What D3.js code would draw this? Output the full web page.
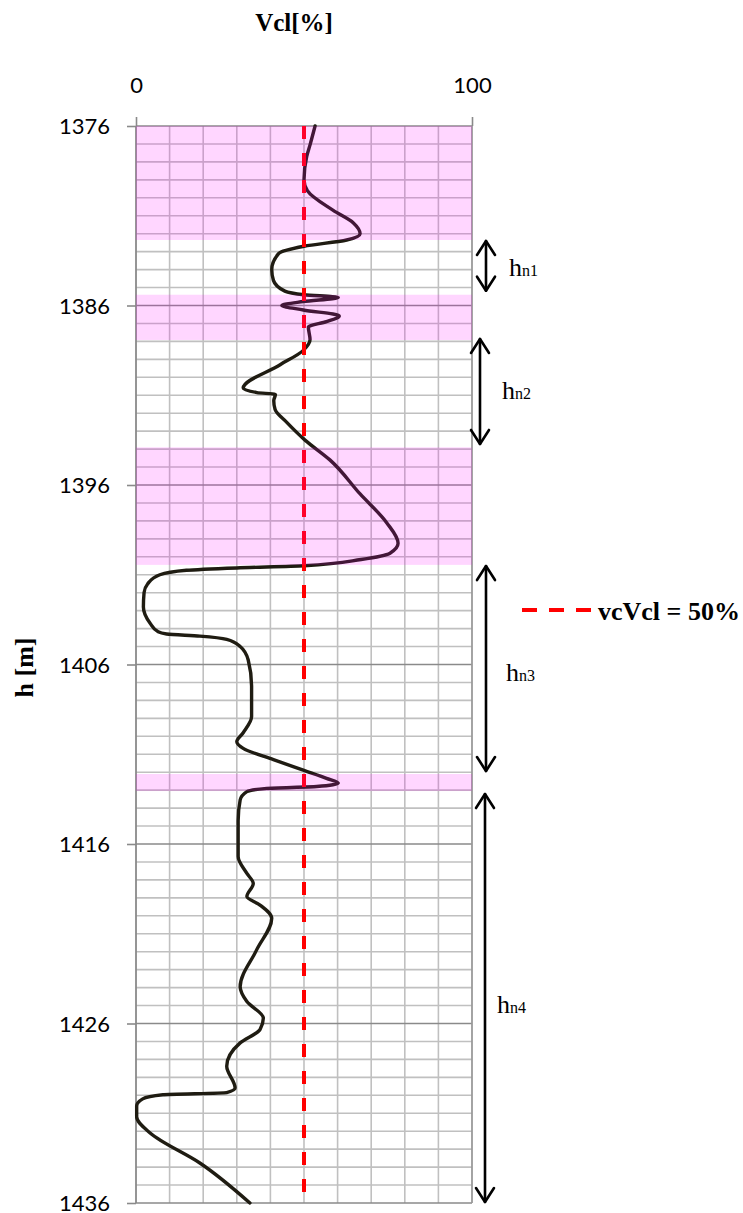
<!DOCTYPE html>
<html>
<head>
<meta charset="utf-8">
<script src="https://cdn.jsdelivr.net/npm/d3@7/dist/d3.min.js"></script>
<style>
  html, body { margin: 0; padding: 0; background: #ffffff; }
  svg { display: block; }
</style>
</head>
<body>
<div id="chart"></div>
<script>
// ---------------- data ----------------
const depthTicks = [1376, 1386, 1396, 1406, 1416, 1426, 1436];
const vclTicks = [0, 100];
const cutoffVcl = 50;

const depth = [1376.0, 1377.05, 1377.7, 1379.0, 1379.6, 1380.7, 1381.4, 1382.0, 1382.35, 1382.7,
  1383.1, 1384.0, 1384.6, 1385.2, 1385.4, 1385.55, 1385.78, 1386.0, 1386.25, 1386.58,
  1386.9, 1387.2, 1387.9, 1388.5, 1389.3, 1390.6, 1390.85, 1390.95, 1391.3, 1391.8,
  1392.5, 1393.5, 1394.6, 1396.5, 1398.1, 1399.25, 1399.8, 1400.15, 1400.5, 1400.62,
  1400.75, 1401.0, 1401.5, 1402.0, 1402.8, 1403.7, 1404.18, 1404.3, 1404.42, 1404.6,
  1405.0, 1405.75, 1407.2, 1408.9, 1409.8, 1410.3, 1410.67, 1411.3, 1411.9, 1412.34,
  1412.6, 1412.8, 1412.9, 1413.08, 1413.55, 1414.7, 1416.7, 1417.64, 1418.2, 1418.93,
  1419.4, 1420.14, 1421.9, 1423.95, 1424.78, 1425.7, 1426.34, 1427.08, 1428.38, 1429.6,
  1429.85, 1429.97, 1430.2, 1430.6, 1431.2, 1432.1, 1433.77, 1436.0];
const vcl = [53.3, 51.8, 50.8, 50.0, 51.0, 58.7, 64.7, 66.7, 62.7, 50.0,
  42.5, 40.4, 40.9, 44.3, 50.0, 60.2, 49.8, 43.4, 49.8, 60.5,
  56.7, 51.3, 51.8, 49.8, 42.9, 31.9, 36.0, 41.5, 41.0, 41.4,
  44.8, 50.3, 57.7, 66.7, 74.6, 78.0, 75.6, 67.0, 50.0, 30.0,
  15.0, 7.1, 3.5, 2.4, 2.2, 4.2, 6.6, 9.1, 19.0, 27.0,
  31.0, 33.4, 34.4, 34.4, 31.9, 30.0, 31.9, 40.9, 50.0, 56.7,
  60.2, 53.8, 38.9, 33.0, 31.0, 30.4, 30.4, 33.0, 34.9, 33.0,
  36.9, 40.4, 35.9, 31.0, 33.0, 37.9, 36.9, 31.0, 27.0, 29.5,
  27.0, 8.0, 2.0, 0.2, 0.2, 4.2, 19.0, 33.9];

// shale (Vcl > cutoff) intervals
const bandTop = [1376, 1385.4, 1393.9, 1412.1];
const bandBottom = [1382.35, 1387.92, 1400.45, 1413.05];

// net intervals
const hnNames = ["n1", "n2", "n3", "n4"];
const hnTop = [1382.35, 1387.81, 1400.46, 1413.16];
const hnBottom = [1385.23, 1393.77, 1411.99, 1436.0];

// ---------------- drawing ----------------
const W = 743, H = 1213;
const svg = d3.select("#chart").append("svg").attr("width", W).attr("height", H);
svg.append("rect").attr("width", W).attr("height", H).attr("fill", "#fff");

const x = d3.scaleLinear().domain([0, 100]).range([136, 472]);
const y = d3.scaleLinear().domain([1376, 1436]).range([126, 1203]);

const minor = d3.range(1376, 1437, 1);
const vlines = d3.range(0, 101, 10);

const g = svg.append("g");
// minor horizontal grid
g.selectAll("line.h").data(minor.filter(d => !depthTicks.includes(d))).join("line")
  .attr("x1", x(0)).attr("x2", x(100)).attr("y1", d => y(d)).attr("y2", d => y(d))
  .attr("stroke", "#c0c0c0").attr("stroke-width", 1.6);
// vertical grid
g.selectAll("line.v").data(vlines.filter(d => d > 0 && d < 100)).join("line")
  .attr("x1", d => x(d)).attr("x2", d => x(d)).attr("y1", y(1376)).attr("y2", y(1436))
  .attr("stroke", "#c0c0c0").attr("stroke-width", 1.6);
// major horizontal grid
g.selectAll("line.M").data(depthTicks).join("line")
  .attr("x1", x(0)).attr("x2", x(100)).attr("y1", d => y(d)).attr("y2", d => y(d))
  .attr("stroke", "#8a8a8a").attr("stroke-width", 1.6);
// right & left borders
g.append("line").attr("x1", x(100)).attr("x2", x(100)).attr("y1", y(1376)).attr("y2", y(1436))
  .attr("stroke", "#9a9a9a").attr("stroke-width", 1.8);
g.append("line").attr("x1", x(0)).attr("x2", x(0)).attr("y1", y(1376)).attr("y2", y(1436))
  .attr("stroke", "#8a8a8a").attr("stroke-width", 1.8);

// curve
const pts = depth.map((d, i) => [vcl[i], d]);
const line = d3.line().x(p => x(p[0])).y(p => y(p[1])).curve(d3.curveMonotoneY);
svg.append("path").datum(pts).attr("d", line)
  .attr("fill", "none").attr("stroke", "#1f1c12").attr("stroke-width", 3.4)
  .attr("stroke-linejoin", "round").attr("stroke-linecap", "round");

// cutoff line
svg.append("line").attr("x1", x(cutoffVcl)).attr("x2", x(cutoffVcl))
  .attr("y1", y(1376)).attr("y2", y(1436))
  .attr("stroke", "#ff0000").attr("stroke-width", 4).attr("stroke-dasharray", "13 14");

// shale bands (translucent overlay)
svg.selectAll("rect.band").data(bandTop.map((t, i) => [t, bandBottom[i]])).join("rect")
  .attr("x", x(0)).attr("width", x(100) - x(0))
  .attr("y", d => y(d[0])).attr("height", d => y(d[1]) - y(d[0]))
  .attr("fill", "#ff00ff").attr("fill-opacity", 0.16);

// axes
const axL = d3.axisLeft(y).tickValues(depthTicks).tickSize(9).tickPadding(17).tickFormat(d3.format("d"));
const gl = svg.append("g").attr("transform", `translate(${x(0)},0)`).call(axL);
const axT = d3.axisTop(x).tickValues(vclTicks).tickSize(9).tickPadding(24).tickFormat(d3.format("d"));
const gt = svg.append("g").attr("transform", `translate(0,${y(1376)})`).call(axT);
[gl, gt].forEach(a => {
  a.select(".domain").remove();
  a.selectAll(".tick line").attr("stroke", "#8a8a8a").attr("stroke-width", 1.6);
  a.selectAll(".tick text").attr("font-family", "Lato, 'Open Sans', sans-serif")
    .attr("font-size", 22).attr("fill", "#000");
});
gl.selectAll(".tick text").attr("dy", "0.36em");

// titles
svg.append("text").attr("x", 294).attr("y", 31).attr("text-anchor", "middle")
  .attr("font-family", "'Liberation Serif', 'Times New Roman', serif").attr("font-weight", "bold")
  .attr("font-size", 25).text("Vcl[%]");
svg.append("text").attr("transform", `translate(33,${(y(1376) + y(1436)) / 2 + 3}) rotate(-90)`)
  .attr("text-anchor", "middle")
  .attr("font-family", "'Liberation Serif', 'Times New Roman', serif").attr("font-weight", "bold")
  .attr("font-size", 26).text("h [m]");

// legend
svg.append("line").attr("x1", 522).attr("x2", 591).attr("y1", 610).attr("y2", 610)
  .attr("stroke", "#ff0000").attr("stroke-width", 4).attr("stroke-dasharray", "15 12");
svg.append("text").attr("x", 598).attr("y", 620)
  .attr("font-family", "'Liberation Serif', 'Times New Roman', serif").attr("font-weight", "bold")
  .attr("font-size", 26).text(`vcVcl = ${cutoffVcl}%`);

// net interval arrows
const arrowX = [486, 480, 486, 485];
const labelX = [509, 502, 506, 497];
const labelY = [276, 399, 681, 1013];
const ag = svg.append("g").attr("stroke", "#000").attr("stroke-width", 2.6).attr("fill", "none")
  .attr("stroke-linecap", "round").attr("stroke-linejoin", "round");
hnNames.forEach((n, i) => {
  const ax = arrowX[i], t = y(hnTop[i]), b = y(hnBottom[i]);
  ag.append("line").attr("x1", ax).attr("x2", ax).attr("y1", t + 1).attr("y2", b - 1);
  ag.append("path").attr("d", `M${ax - 9},${t + 15}L${ax},${t + 1}L${ax + 9},${t + 15}`);
  ag.append("path").attr("d", `M${ax - 9},${b - 15}L${ax},${b - 1}L${ax + 9},${b - 15}`);
  const tx = svg.append("text").attr("x", labelX[i]).attr("y", labelY[i])
    .attr("font-family", "'Liberation Serif', 'Times New Roman', serif").attr("fill", "#000");
  tx.append("tspan").attr("font-size", 26).text("h");
  tx.append("tspan").attr("font-size", 16).text(n);
});
</script>
</body>
</html>
